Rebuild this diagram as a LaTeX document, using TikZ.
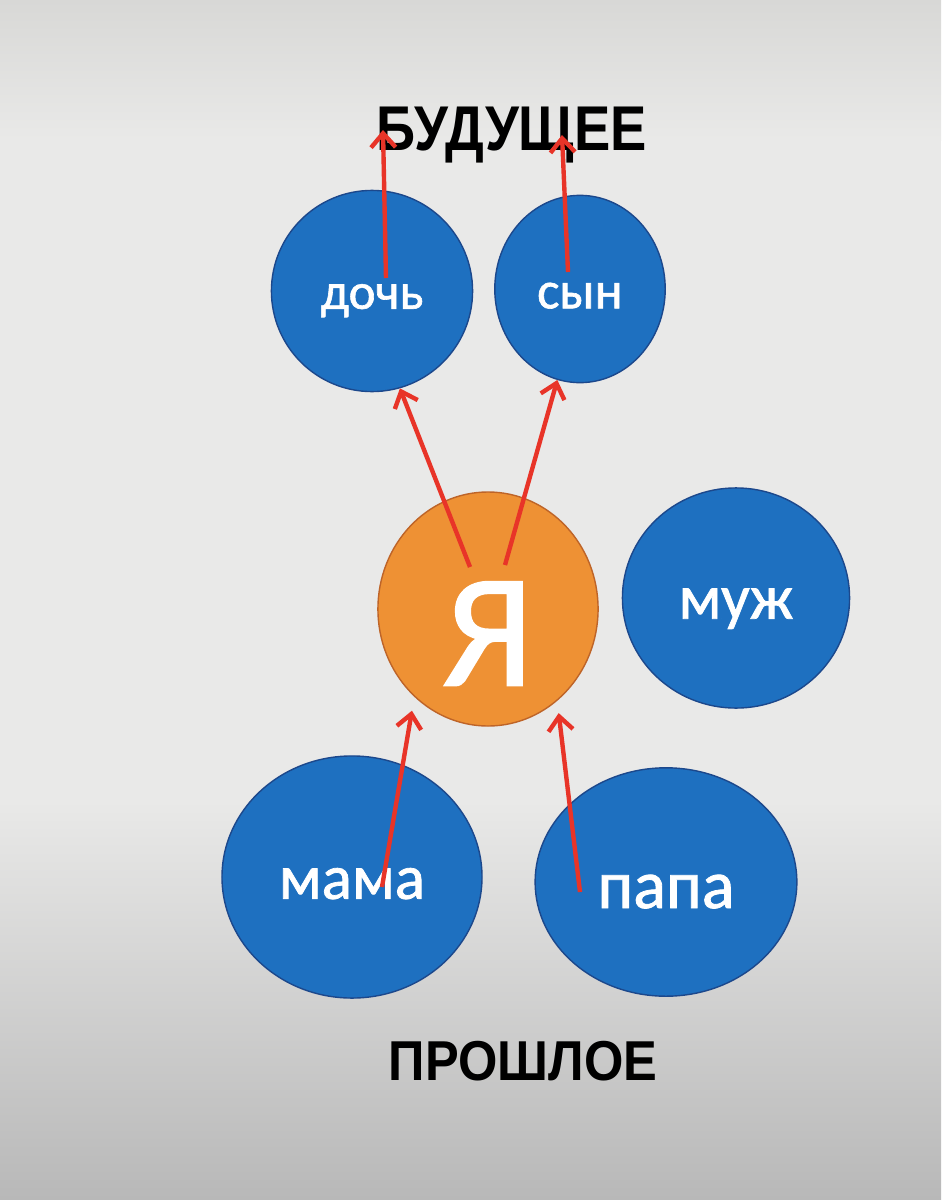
\documentclass[tikz,border=0pt]{standalone}
\usepackage{fontspec}
\setmainfont{Carlito}
\newfontfamily\labelfont[FakeBold=1.2]{Carlito}
\newfontfamily\headfont{Liberation Sans}
\usetikzlibrary{shapes.geometric,arrows.meta}
\definecolor{kinblue}{RGB}{30,112,192}
\definecolor{kinline}{RGB}{28,72,140}
\definecolor{meorange}{RGB}{238,145,52}
\definecolor{meline}{RGB}{190,100,40}
\definecolor{arrred}{RGB}{232,52,40}
\definecolor{bgtop}{RGB}{216,216,214}
\definecolor{bgmid}{RGB}{233,233,232}
\definecolor{bgbot}{RGB}{184,184,184}
\begin{document}
\begin{tikzpicture}[x=0.02cm,y=-0.02cm]
        \tikzstyle{person}=[ellipse,draw=kinline,line width=0.8pt,fill=kinblue,text=white,inner sep=0pt,text depth=0pt]
        \tikzstyle{title}=[font=\headfont\bfseries\fontsize{36}{36}\selectfont,anchor=base,inner sep=0pt]
        \tikzstyle{edge}=[draw,arrred,line width=2.5pt,-{Straight Barb[length=8pt,width=14pt]}]
        % background of the photographed screen
        \fill[bgmid] (0,0) rectangle (941,1200);
        \shade[top color=bgtop,bottom color=bgmid] (0,0) rectangle (941,140);
        \shade[top color=bgmid,bottom color=bgbot] (0,800) rectangle (941,1200);
        \useasboundingbox (0,0) rectangle (941,1200);
    	\begin{scope}
         \node [title] (future) at (512,150) {\scalebox{0.86}[1]{БУДУЩЕЕ}};
         \node [title,font=\headfont\bfseries\fontsize{32}{32}\selectfont] (past) at (523,1080) {\scalebox{0.9}[1]{ПРОШЛОЕ}};

         \node [person,minimum width=114.5pt,minimum height=114.5pt,font=\labelfont\fontsize{29}{29}\selectfont,text height=20.3pt] (doch) at (372,291) {дочь};
         \node [person,minimum width=97pt,minimum height=106.6pt,font=\labelfont\fontsize{30}{30}\selectfont,text height=22pt] (syn) at (580,289) {сын};
         \node [person,minimum width=125.3pt,minimum height=133.2pt,draw=meline,fill=meorange,font=\labelfont\fontsize{92}{92}\selectfont,text height=87pt] (ya) at (488,609) {Я};
         \node [person,minimum width=129.3pt,minimum height=125.3pt,font=\labelfont\fontsize{36}{36}\selectfont,text height=23.6pt] (muzh) at (736,598) {муж};
         \node [person,minimum width=148pt,minimum height=137.8pt,font=\labelfont\fontsize{36}{36}\selectfont,text height=24.8pt] (mama) at (352,877) {мама};
         \node [person,minimum width=149pt,minimum height=130pt,font=\labelfont\fontsize{39}{39}\selectfont,text height=29.6pt] (papa) at (666,882) {папа};

         \coordinate (d0) at (386,278);
         \coordinate (d1) at (383,130);
         \coordinate (s0) at (568,272);
         \coordinate (s1) at (562,135);
         \coordinate (y0) at (470,567);
         \coordinate (y1) at (505,565);
         \coordinate (m0) at (382,887);
         \coordinate (p0) at (580,892);

         \path[edge] (d0) to (d1);
         \path[edge] (s0) to (s1);
         \path[edge] (y0) to (doch.-74);
         \path[edge] (y1) to (syn.-104);
         \path[edge,shorten >=8pt] (m0) to (ya.230);
         \path[edge,shorten >=7pt] (p0) to (ya.-53);
         \end{scope}

      \end{tikzpicture}
\end{document}
